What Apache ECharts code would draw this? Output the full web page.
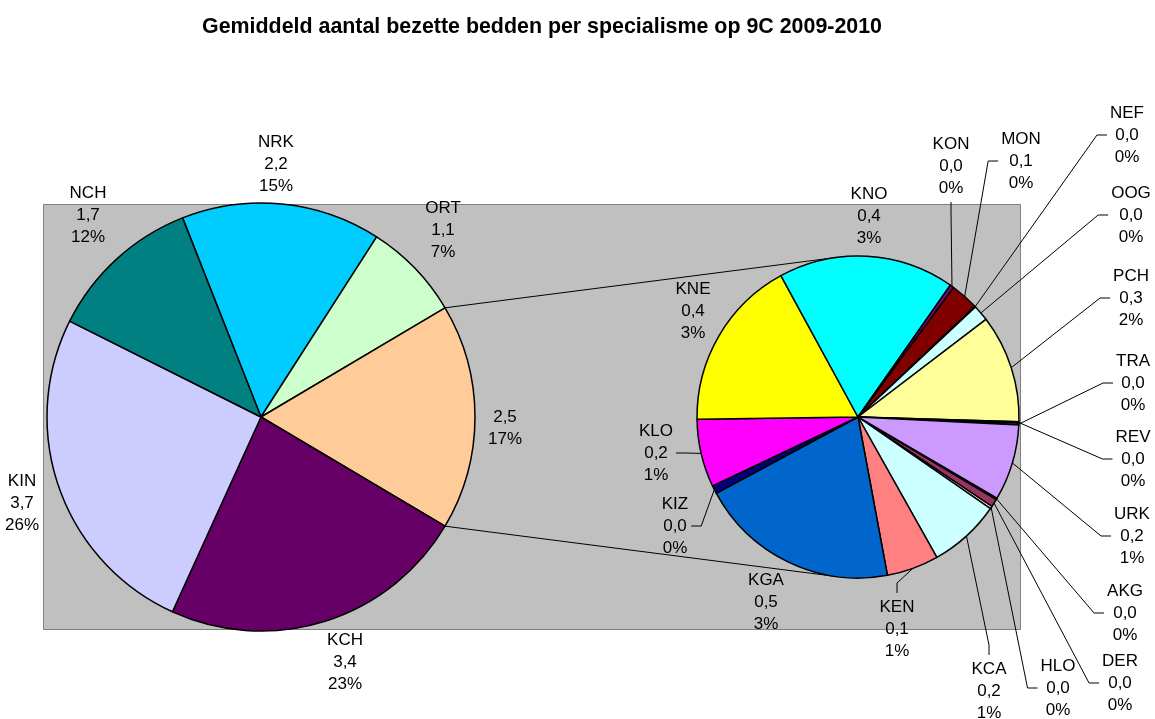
<!DOCTYPE html>
<html>
<head>
<meta charset="utf-8">
<title>Gemiddeld aantal bezette bedden per specialisme op 9C 2009-2010</title>
<script src="https://cdn.jsdelivr.net/npm/echarts@6/dist/echarts.min.js"></script>
<style>
  html, body { margin: 0; padding: 0; background: #fff; }
  #chart { width: 1155px; height: 719px; }
</style>
</head>
<body>
<div id="chart"></div>
<script>
// hoofdtaart (het lege label is het opgesplitste deel)
const mainNames = ["NRK", "ORT", "", "KCH", "KIN", "NCH"];
const mainValues = [2.2, 1.08, null, 3.4, 3.74, 1.7];
const mainColors = ["#00CCFF", "#CCFFCC", "#FFCC99", "#660066", "#CCCCFF", "#008080"];
const splitIndex = 2;

// tweede taart
const subNames = ["AKG", "DER", "HLO", "KCA", "KEN", "KGA", "KIZ", "KLO", "KNE",
  "KNO", "KON", "MON", "NEF", "OOG", "PCH", "REV", "TRA", "URK"];
const subValues = [0.004, 0.02, 0.006, 0.18, 0.13, 0.5, 0.02, 0.17, 0.43,
  0.44, 0.01, 0.07, 0.002, 0.04, 0.27, 0.004, 0.004, 0.19];
const subColors = ["#9999FF", "#993366", "#FFFFCC", "#CCFFFF", "#FF8080", "#0066CC", "#000080", "#FF00FF", "#FFFF00",
  "#00FFFF", "#800080", "#800000", "#0000FF", "#CCFFFF", "#FFFF99", "#99CCFF", "#FF99CC", "#CC99FF"];

const FONT = "'Liberation Sans', Arial, sans-serif";
const MAIN = { cx: 261, cy: 417, r: 214 };
const SUB = { cx: 858, cy: 417, r: 161 };
const subStartCw = 120.3; // graden, met de klok mee vanaf boven

// label posities (midden van het label) + kant van de verbindingslijn
const mainLabelPos = [[276, 164], [443, 230], [505, 428], [345, 662], [22, 503], [88, 215]];
const subLabelPos = {
  KNO: [869, 216], KON: [951, 166, "bottom"], MON: [1021, 161, "left"],
  NEF: [1127, 135, "left"], OOG: [1131, 215, "left"], PCH: [1131, 298, "left"],
  TRA: [1133, 383, "left"], REV: [1133, 459, "left"], URK: [1132, 536, "left"],
  AKG: [1125, 613, "left"], DER: [1120, 683, "left"], HLO: [1058, 688, "left"],
  KCA: [989, 691, "top"], KEN: [897, 629, "top"], KGA: [766, 602],
  KIZ: [675, 526, "right"], KLO: [656, 453, "right"], KNE: [693, 311]
};

const sum = (arr) => arr.reduce((a, b) => a + b, 0);
const subTotal = sum(subValues);
const mainData = mainValues.map((v, i) => (i === splitIndex ? subTotal : v));
const grandTotal = sum(mainData);

function fmt(name, v) {
  const val = v.toFixed(1).replace(".", ",");
  const pct = Math.round((v / grandTotal) * 100) + "%";
  return name ? name + "\n" + val + "\n" + pct : val + "\n" + pct;
}

function pointAt(g, deg) {
  const t = (deg * Math.PI) / 180;
  return [g.cx + g.r * Math.sin(t), g.cy - g.r * Math.cos(t)];
}

// hoofdtaart zo draaien dat het opgesplitste deel rechts in het midden ligt
const mainTotal = sum(mainData);
const beforeSplit = sum(mainData.slice(0, splitIndex));
const mainStartCw = 90 - ((beforeSplit + mainData[splitIndex] / 2) / mainTotal) * 360;
const splitFrom = mainStartCw + (beforeSplit / mainTotal) * 360;
const splitTo = splitFrom + (mainData[splitIndex] / mainTotal) * 360;

// middenhoek van elk stuk in de tweede taart
const subMid = [];
(function () {
  let a = subStartCw;
  subValues.forEach((v) => {
    const span = (v / subTotal) * 360;
    subMid.push(a + span / 2);
    a += span;
  });
})();

// raaklijn van punt p aan de tweede taart
function tangent(p, upper) {
  const dx = p[0] - SUB.cx, dy = p[1] - SUB.cy;
  const d = Math.sqrt(dx * dx + dy * dy);
  const phi = Math.atan2(dy, dx);
  const alpha = Math.acos(SUB.r / d);
  const a1 = phi + alpha, a2 = phi - alpha;
  const t1 = [SUB.cx + SUB.r * Math.cos(a1), SUB.cy + SUB.r * Math.sin(a1)];
  const t2 = [SUB.cx + SUB.r * Math.cos(a2), SUB.cy + SUB.r * Math.sin(a2)];
  if (upper) return t1[1] < t2[1] ? t1 : t2;
  return t1[1] > t2[1] ? t1 : t2;
}

const pTop = pointAt(MAIN, splitFrom);
const pBottom = pointAt(MAIN, splitTo);
const tTop = tangent(pTop, true);
const tBottom = tangent(pBottom, false);

const labelStyle = {
  color: "#000",
  fontFamily: FONT,
  fontSize: 17,
  lineHeight: 22,
  align: "center"
};

const chart = echarts.init(document.getElementById("chart"));

const option = {
  animation: false,
  backgroundColor: "#fff",
  title: {
    text: "Gemiddeld aantal bezette bedden per specialisme op 9C 2009-2010",
    left: 197,
    top: 12,
    textStyle: { fontFamily: FONT, fontSize: 21.4, fontWeight: "bold", color: "#000" }
  },
  graphic: [
    {
      type: "rect",
      z: 0,
      silent: true,
      shape: { x: 43.5, y: 204.5, width: 977, height: 425 },
      style: { fill: "#C0C0C0", stroke: "#808080", lineWidth: 1 }
    },
    {
      type: "line",
      z: 1,
      silent: true,
      shape: { x1: pTop[0], y1: pTop[1], x2: tTop[0], y2: tTop[1] },
      style: { stroke: "#000", lineWidth: 1 }
    },
    {
      type: "line",
      z: 1,
      silent: true,
      shape: { x1: pBottom[0], y1: pBottom[1], x2: tBottom[0], y2: tBottom[1] },
      style: { stroke: "#000", lineWidth: 1 }
    }
  ],
  series: [
    {
      name: "hoofd",
      type: "pie",
      center: [MAIN.cx, MAIN.cy],
      radius: MAIN.r,
      startAngle: 90 - mainStartCw,
      clockwise: true,
      avoidLabelOverlap: false,
      silent: true,
      itemStyle: { borderColor: "#000", borderWidth: 1.5 },
      label: {
        show: true,
        position: "outside",
        formatter: (p) => fmt(mainNames[p.dataIndex], p.value),
        ...labelStyle
      },
      labelLine: { show: false },
      labelLayout: (params) => {
        const pos = mainLabelPos[params.dataIndex];
        return { x: pos[0], y: pos[1], align: "center", verticalAlign: "middle" };
      },
      data: mainData.map((v, i) => ({
        name: mainNames[i],
        value: v,
        itemStyle: { color: mainColors[i] }
      }))
    },
    {
      name: "tweede",
      type: "pie",
      center: [SUB.cx, SUB.cy],
      radius: SUB.r,
      startAngle: 90 - subStartCw,
      clockwise: true,
      avoidLabelOverlap: false,
      silent: true,
      itemStyle: { borderColor: "#000", borderWidth: 1.5 },
      label: {
        show: true,
        position: "outside",
        formatter: (p) => fmt(subNames[p.dataIndex], p.value),
        ...labelStyle
      },
      labelLine: { show: true, length: 5, length2: 5, smooth: false, lineStyle: { color: "#000", width: 1 } },
      labelLayout: (params) => {
        const name = subNames[params.dataIndex];
        const pos = subLabelPos[name];
        const w = params.labelRect.width;
        const h = params.labelRect.height;
        const res = { x: pos[0], y: pos[1], align: "center", verticalAlign: "middle" };
        const side = pos[2];
        if (side) {
          const e = pointAt(SUB, subMid[params.dataIndex]);
          let end, elbow;
          if (side === "left") {
            end = [pos[0] - w / 2 - 3, pos[1]];
            elbow = [end[0] - 10, pos[1]];
          } else if (side === "right") {
            end = [pos[0] + w / 2 + 3, pos[1]];
            elbow = [end[0] + 10, pos[1]];
          } else if (side === "top") {
            end = [pos[0], pos[1] - h / 2 - 3];
            elbow = [pos[0], end[1] - 10];
          } else {
            end = [pos[0], pos[1] + h / 2 + 3];
            elbow = [pos[0], end[1] + 10];
          }
          res.labelLinePoints = [e, elbow, end];
        }
        return res;
      },
      data: subValues.map((v, i) => ({
        name: subNames[i],
        value: v,
        itemStyle: { color: subColors[i] },
        labelLine: { show: !!subLabelPos[subNames[i]][2] }
      }))
    }
  ]
};

chart.setOption(option);
</script>
</body>
</html>
